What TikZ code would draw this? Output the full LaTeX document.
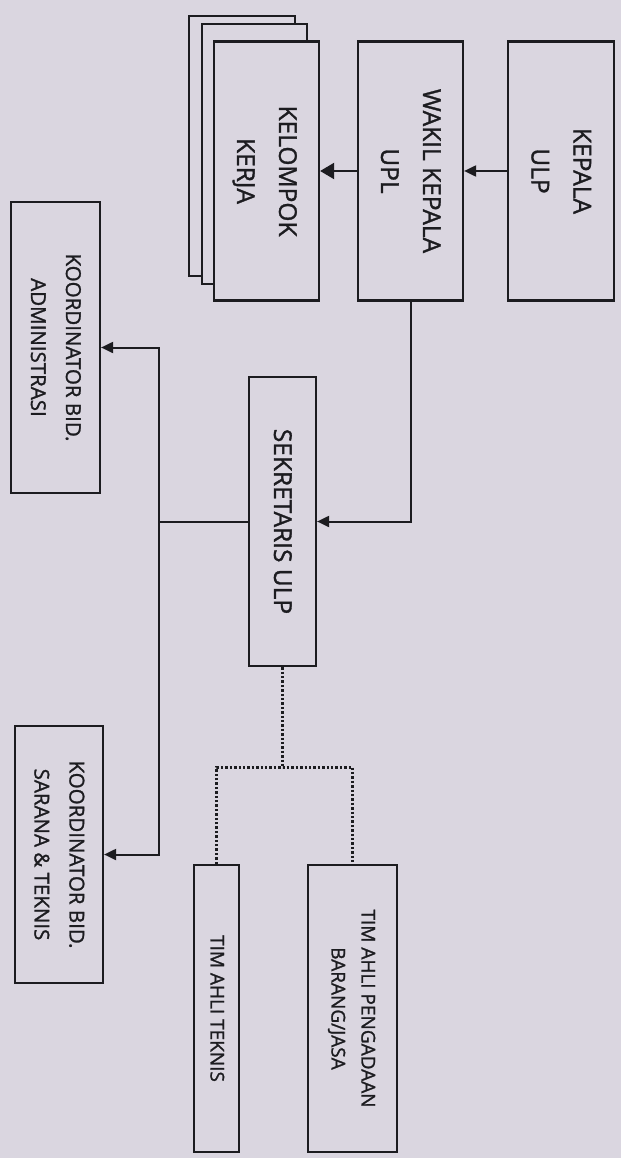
\documentclass[tikz,border=0pt]{standalone}
\usepackage{fontspec}
\setmainfont{Open Sans}[BoldFont={Open Sans}, BoldFeatures={FakeBold=1.3}]
\usepackage{graphicx}
\usepackage{tikz}
\usetikzlibrary{arrows.meta, positioning, calc}

\definecolor{paper}{RGB}{218,214,224}
\definecolor{ink}{RGB}{28,28,32}
\newcommand{\vlabel}[1]{\rotatebox{-90}{\begin{tabular}{@{}c@{}}#1\end{tabular}}}

\begin{document}
\begin{tikzpicture}[
	x=1pt, y=-1pt,
	>={Triangle[length=12pt,width=11pt]},
	unit/.style={
		draw=ink,
		fill=paper,
		line width=2.2pt,
		inner sep=0pt,
		text=ink
	},
	big/.style={font=\fontsize{24.5}{42}\selectfont\bfseries},
	mid/.style={font=\fontsize{20.5}{35}\selectfont\bfseries},
	small/.style={font=\fontsize{19}{30}\selectfont\bfseries},
	link/.style={draw=ink, line width=2pt, ->},
	dots/.style={draw=ink, line width=3pt, dash pattern=on 2.4pt off 2pt}
	]

	\useasboundingbox (0,0) rectangle (621,1158);
	\fill[paper] (0,0) rectangle (621,1158);

	%------------------------------------------------
	% TOP ROW
	%------------------------------------------------

	\node[unit, big, minimum width=106pt, minimum height=259pt]
	(kepala) at (561,171) {\vlabel{KEPALA\\ULP}};

	\node[unit, big, minimum width=105pt, minimum height=259pt]
	(wakil) at (410.5,171) {\vlabel{WAKIL KEPALA\\UPL}};

	\node[unit, minimum width=106pt, minimum height=260pt]
	(kerjaC) at (242,146) {};
	\node[unit, minimum width=105pt, minimum height=260pt]
	(kerjaB) at (254.5,154) {};
	\node[unit, big, minimum width=105pt, minimum height=259pt]
	(kerja) at (266.5,171) {\vlabel{KELOMPOK\\KERJA}};

	%------------------------------------------------
	% MIDDLE
	%------------------------------------------------

	\node[unit, big, minimum width=67pt, minimum height=289pt]
	(sek) at (282.5,521.5) {\vlabel{SEKRETARIS ULP}};

	\node[unit, mid, minimum width=89pt, minimum height=291pt]
	(admin) at (55.5,347.5) {\vlabel{KOORDINATOR BID.\\ADMINISTRASI}};

	\node[unit, mid, minimum width=88pt, minimum height=257pt]
	(sarana) at (59,854.5) {\vlabel{KOORDINATOR BID.\\SARANA \& TEKNIS}};

	%------------------------------------------------
	% BOTTOM (tim ahli)
	%------------------------------------------------

	\node[unit, small, minimum width=45pt, minimum height=287pt]
	(teknis) at (216.5,1008.5) {\vlabel{TIM AHLI TEKNIS}};

	\node[unit, small, minimum width=89pt, minimum height=287pt]
	(barang) at (352.5,1008.5) {\vlabel{TIM AHLI PENGADAAN\\BARANG/JASA}};

	%------------------------------------------------
	% CONNECTORS
	%------------------------------------------------

	\draw[link] (kepala.west) -- (wakil.east);
	\draw[link, -{Triangle[length=14pt,width=16pt]}] (wakil.west) -- (kerja.east);

	\draw[link] (wakil.south) |- (sek.east);

	\coordinate (fork) at ([xshift=-89pt]sek.west);
	\draw[draw=ink, line width=2pt] (sek.west) -- (fork);
	\draw[link] (fork) |- (admin.east);
	\draw[link] (fork) |- (sarana.east);

	\coordinate (split) at ([yshift=-100pt]sek.south);
	\draw[dots] (sek.south) -- (split);
	\draw[dots] (teknis.north) |- (split) -| (barang.north);

\end{tikzpicture}
\end{document}
